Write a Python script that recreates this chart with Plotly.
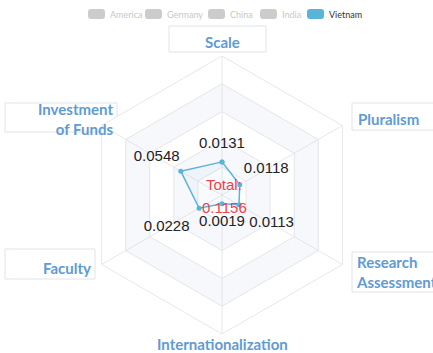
import plotly.graph_objects as go

# ---- data ----
indicators = ["Scale", "Pluralism", "Research Assessment", "Internationalization",
              "Faculty", "Investment of Funds"]
indicator_max = [0.055, 0.08, 0.08, 0.03, 0.12, 0.16]
vietnam = [0.0131, 0.0118, 0.0113, 0.0019, 0.0228, 0.0548]
total_vietnam = 0.1156
countries = ["America", "Germany", "China", "India", "Vietnam"]
country_active = [False, False, False, False, True]

# ---- styles ----
W, H = 433, 353
CX, CY, R = 222, 195, 139
label_offset = [0.13, 0.22, 0.27, 0.13, 0.27, 0.20]
axis_blue = "#5f9bd3"
line_blue = "#5ab4da"
legend_box_x = [88, 145, 208, 260, 307]

norm = [v / m for v, m in zip(vietnam, indicator_max)]

fig = go.Figure()

# split areas (alternating shaded rings)
levels = [0.2, 0.4, 0.6, 0.8, 1.0]
for i in range(len(levels)):
    outer = levels[i]
    inner = levels[i - 1] if i > 0 else 0.0
    if i % 2 == 1:
        th = indicators + [indicators[0]] + [indicators[0]] + indicators[::-1]
        rr = [outer] * 7 + [inner] * 7
        fig.add_trace(go.Scatterpolar(r=rr, theta=th, mode="lines", fill="toself",
                                      fillcolor="rgba(210,216,238,0.17)",
                                      line=dict(width=0, color="rgba(0,0,0,0)"),
                                      showlegend=False, hoverinfo="skip"))

# Vietnam
fig.add_trace(go.Scatterpolar(
    r=norm + [norm[0]], theta=indicators + [indicators[0]], name="Vietnam",
    mode="lines+markers", line=dict(color=line_blue, width=1.5),
    marker=dict(size=5, color=line_blue), fill="toself",
    fillcolor="rgba(90,180,218,0.05)", showlegend=False))

# value labels
fig.add_trace(go.Scatterpolar(
    r=[n + o for n, o in zip(norm, label_offset)], theta=indicators,
    mode="text", text=[f"{v:.4f}" for v in vietnam], textposition="middle center",
    textfont=dict(family="Liberation Sans, Arial", size=15, color="#222222"),
    showlegend=False, hoverinfo="skip"))

fig.update_layout(
    width=W, height=H, margin=dict(l=0, r=0, t=0, b=0),
    paper_bgcolor="white", plot_bgcolor="white", showlegend=False,
    polar=dict(
        domain=dict(x=[(CX - R) / W, (CX + R) / W],
                    y=[(H - CY - R) / H, (H - CY + R) / H]),
        bgcolor="white", gridshape="linear",
        radialaxis=dict(range=[0, 1], tickvals=levels, showticklabels=False,
                        showline=False, ticks="", gridcolor="#e8e8e8", gridwidth=1),
        angularaxis=dict(direction="clockwise", rotation=90, showticklabels=False,
                         ticks="", gridcolor="#e8e8e8", linecolor="#e8e8e8",
                         categoryorder="array", categoryarray=indicators),
    ),
    font=dict(family="Lato"),
)


def px(x):
    return x / W


def py(y):
    return 1 - y / H


# custom legend
for c, act, bx in zip(countries, country_active, legend_box_x):
    col = line_blue if act else "#cccccc"
    x0, x1, y0, y1, rad = bx, bx + 17, 9, 19, 3
    path = (f"M {px(x0 + rad)} {py(y0)} L {px(x1 - rad)} {py(y0)} "
            f"Q {px(x1)} {py(y0)} {px(x1)} {py(y0 + rad)} L {px(x1)} {py(y1 - rad)} "
            f"Q {px(x1)} {py(y1)} {px(x1 - rad)} {py(y1)} L {px(x0 + rad)} {py(y1)} "
            f"Q {px(x0)} {py(y1)} {px(x0)} {py(y1 - rad)} L {px(x0)} {py(y0 + rad)} "
            f"Q {px(x0)} {py(y0)} {px(x0 + rad)} {py(y0)} Z")
    fig.add_shape(type="path", xref="paper", yref="paper", path=path,
                  fillcolor=col, line=dict(width=0))
    fig.add_annotation(x=px(bx + 20), y=py(14), xref="paper", yref="paper", text=c,
                       showarrow=False, xanchor="left", yanchor="middle",
                       font=dict(family="Lato", size=9,
                                 color="#333333" if act else "#c8c8c8"))

# name boxes
boxes = [(169, 26, 266, 52), (5, 103, 117, 132), (352, 103, 440, 130),
         (5, 249, 95, 279), (352, 252, 440, 292)]
for x0, y0, x1, y1 in boxes:
    fig.add_shape(type="rect", xref="paper", yref="paper", x0=px(x0), x1=px(x1),
                  y0=py(y1), y1=py(y0), line=dict(color="#dfe4ea", width=1),
                  fillcolor="rgba(255,255,255,0)", layer="below")

name_font = dict(family="Lato", size=15, color=axis_blue, weight="bold")
name_pos = [(222, 42, "center", "Scale"),
            (356, 119, "left", "Pluralism"),
            (354, 272, "left", "Research<br>Assessment"),
            (222, 344, "center", "Internationalization"),
            (93, 268, "right", "Faculty"),
            (115, 119, "right", "Investment<br>of Funds")]
for x, y, anc, txt in name_pos:
    fig.add_annotation(x=px(x), y=py(y), xref="paper", yref="paper", text=txt,
                       showarrow=False, xanchor=anc, yanchor="middle", align=anc,
                       font=name_font)

total_font = dict(family="Liberation Sans, Arial", size=15, color="#f0424a")
fig.add_annotation(x=px(CX + 2), y=py(184), xref="paper", yref="paper",
                   text="Total:", showarrow=False, font=total_font,
                   xanchor="center", yanchor="middle")
fig.add_annotation(x=px(CX + 2), y=py(207), xref="paper", yref="paper",
                   text=f"{total_vietnam:.4f}", showarrow=False, font=total_font,
                   xanchor="center", yanchor="middle")

fig.write_html("out.html")
